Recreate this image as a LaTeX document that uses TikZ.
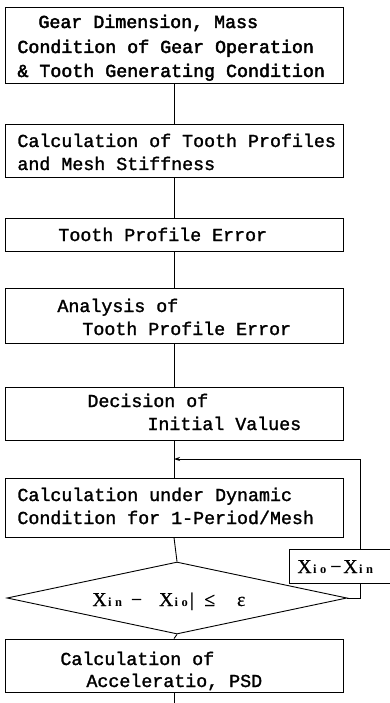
\documentclass[tikz,border=0pt]{standalone}
\usepackage{fontspec}
\usetikzlibrary{shapes.geometric,arrows.meta}
\newfontfamily\tw[FakeBold=1.5]{Liberation Mono}
\newfontfamily\twb[FakeBold=2.5]{Liberation Mono}
\newfontfamily\xf[FakeBold=0.8]{Liberation Serif}
\newfontfamily\xfb{Liberation Serif Bold}
\newcommand\xsub[2]{{\xfb\fontsize{12.5}{12}\selectfont\hspace{1.5pt}#1\hspace{3.5pt}#2}}
\begin{document}
\begin{tikzpicture}[x=1pt,y=-1pt,
  line width=0.9pt,
  box/.style={draw,rectangle,inner sep=0pt},
  txt/.style={anchor=base west,inner sep=0pt,font=\tw\fontsize{18.3}{22}\selectfont},
  txtb/.style={txt,font=\twb\fontsize{18.3}{22}\selectfont},
  mtxt/.style={anchor=base west,inner sep=0pt,font=\xf\fontsize{19.6}{22}\selectfont},
  link/.style={draw},
  arr/.style={-{Stealth[length=6pt,width=4pt]}}]
\useasboundingbox (0,0) rectangle (389,703);
% boxes
\node[box,minimum width=338pt,minimum height=76pt] (b1) at (174,45) {};
\node[box,minimum width=338pt,minimum height=53pt] (b2) at (174,150.5) {};
\node[box,minimum width=338pt,minimum height=33pt] (b3) at (174,234.5) {};
\node[box,minimum width=338pt,minimum height=55pt] (b4) at (174,315.5) {};
\node[box,minimum width=338pt,minimum height=53pt] (b5) at (174,413.5) {};
\node[box,minimum width=338pt,minimum height=59pt] (b6) at (174,507.5) {};
\node[draw,diamond,inner sep=0pt,minimum width=340pt,minimum height=72pt] (d) at (177,598) {};
\node[box,minimum width=338pt,minimum height=53pt] (b7) at (174,665.5) {};
\node[box,minimum width=104pt,minimum height=34pt] (xb) at (341,566) {};
% texts
\node[txtb] (t1a) at (38,28) {Gear Dimension, Mass};
\node[txtb] (t1b) at (17,53) {Condition of Gear Operation};
\node[txtb] (t1c) at (17,77) {\& Tooth Generating Condition};
\node[txt] (t2a) at (17,147) {Calculation of Tooth Profiles};
\node[txt] (t2b) at (17,170) {and Mesh Stiffness};
\node[txt] (t3a) at (58,241) {Tooth Profile Error};
\node[txt] (t4a) at (57,312) {Analysis of};
\node[txt] (t4b) at (82,335) {Tooth Profile Error};
\node[txt] (t5a) at (87,407) {Decision of};
\node[txt] (t5b) at (147,430) {Initial Values};
\node[txt] (t6a) at (17,501) {Calculation under Dynamic};
\node[txt] (t6b) at (17,524) {Condition for 1-Period/Mesh};
\node[mtxt] (td) at (92,606) {X\xsub{i}{n}\hspace{9pt}−\hspace{17pt}X\xsub{i}{o}\hspace{2pt}{\xfb|}\hspace{10pt}≤\hspace{22pt}ε};
\node[mtxt] (tx) at (297,573) {X\xsub{i}{o}\hspace{4pt}−\hspace{2pt}X\xsub{i}{n}};
\node[txt] (t7a) at (60,665) {Calculation of};
\node[txt] (t7b) at (86,687) {Acceleratio, PSD};
% connectors
\draw[link] (b1) -- (b2);
\draw[link] (b2) -- (b3);
\draw[link] (b3) -- (b4);
\draw[link] (b4) -- (b5);
\draw[link] (b5) -- (b6);
\draw[link] (b6.south) -- (d.north);
\draw[link] (d.south) -- (b7.north);
\coordinate (tail) at (174,703);
\draw[link] (b7.south) -- (tail);
% feedback loop
\coordinate (r1) at (360,598);
\coordinate (r2) at (360,459);
\coordinate (join) at (174,459);
\draw[link] (d.east) -- (r1) -- (r1 |- xb.south);
\draw[link,arr] (r1 |- xb.north) -- (r2) -- (join);
\end{tikzpicture}
\end{document}
